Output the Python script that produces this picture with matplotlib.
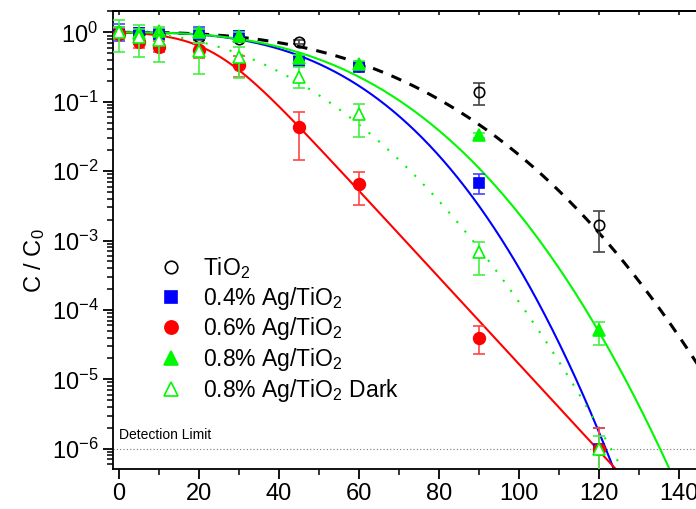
import numpy as np
import matplotlib
matplotlib.use("Agg")
import matplotlib.pyplot as plt
from matplotlib.lines import Line2D
from matplotlib.ticker import FixedLocator, FuncFormatter, NullFormatter

plt.rcParams['font.family'] = ['Liberation Sans', 'DejaVu Sans']
plt.rcParams['mathtext.fontset'] = 'custom'
plt.rcParams['mathtext.rm'] = 'Liberation Sans'
plt.rcParams['mathtext.it'] = 'Liberation Sans:italic'
plt.rcParams['mathtext.bf'] = 'Liberation Sans:bold'

# ---------------- data ----------------
time_min = [0, 5, 10, 20, 30, 45, 60, 90, 120]

tio2 = [1.0, 0.95, 0.95, 0.85, 0.80, 0.725, 0.33, 0.138, 0.0017]
tio2_hi = [1.1, 1.05, 1.03, 0.95, 0.9, 0.78, 0.36, 0.188, 0.0027]
tio2_lo = [0.9, 0.88, 0.88, 0.78, 0.72, 0.67, 0.30, 0.089, 0.00069]

ag04 = [1.0, 0.97, 0.95, 0.95, 0.88, 0.39, 0.32, 0.0068, 1.0e-6]
ag04_hi = [1.3, 1.15, 1.1, 1.2, 1.05, 0.45, 0.37, 0.0090, 2.0e-6]
ag04_lo = [0.75, 0.8, 0.8, 0.8, 0.75, 0.34, 0.28, 0.0047, 1.0e-7]

ag06 = [0.95, 0.72, 0.62, 0.55, 0.34, 0.043, 0.0065, 4.0e-5, 1.0e-6]
ag06_hi = [1.15, 0.85, 0.75, 0.70, 0.45, 0.071, 0.0098, 5.9e-5, 2.0e-6]
ag06_lo = [0.8, 0.6, 0.52, 0.42, 0.23, 0.0145, 0.0033, 2.3e-5, 1.0e-7]

ag08 = [1.05, 0.98, 1.05, 1.0, 0.9, 0.42, 0.35, 0.033, 5.1e-5]
ag08_hi = [1.2, 1.1, 1.15, 1.1, 1.0, 0.47, 0.39, 0.036, 6.8e-5]
ag08_lo = [0.9, 0.85, 0.92, 0.9, 0.8, 0.37, 0.31, 0.030, 3.1e-5]

ag08d = [1.0, 0.85, 0.77, 0.53, 0.44, 0.227, 0.066, 6.8e-4, 1.0e-6]
ag08d_hi = [1.5, 1.27, 1.2, 0.70, 0.62, 0.32, 0.093, 9.6e-4, 1.5e-6]
ag08d_lo = [0.52, 0.44, 0.37, 0.25, 0.22, 0.16, 0.031, 3.2e-4, 1.0e-7]

# model fit parameters
# Weibull: log10(C/C0) = -(t/delta)^p
weib_tio2 = (81.0, 2.7)
weib_ag04 = (65.6, 2.9)
weib_ag08 = (70.5, 2.75)
weib_ag08d = (52.4, 2.1)
# log-linear with shoulder (Geeraerd): slope (decades/min), shoulder (min)
shoulder_ag06 = (0.0625, 23.5)

detection_limit = 1e-6
labels = ['TiO$_2$', '0.4% Ag/TiO$_2$', '0.6% Ag/TiO$_2$', '0.8% Ag/TiO$_2$',
          '0.8% Ag/TiO$_2$ Dark']
x_ticks = [0, 20, 40, 60, 80, 100, 120, 140]
y_ticks = [1e-6, 1e-5, 1e-4, 1e-3, 1e-2, 1e-1, 1e0]

GREEN = '#00F800'
BLUE = '#0000FF'
RED = '#FF0000'

# ---------------- figure ----------------
W, H = 696, 509
fig = plt.figure(figsize=(W / 100, H / 100), dpi=100)
ax_left, ax_right, ax_top, ax_bot = 113, 719, 11, 469
ax = fig.add_axes([ax_left / W, (H - ax_bot) / H, (ax_right - ax_left) / W, (ax_bot - ax_top) / H])
ax.set_yscale('log')
ax.set_xlim(-1.5, 150)
ax.set_ylim(5.1e-7, 2.03)

tf = np.linspace(0, 150, 1500)


def weibull(t, d, p):
    return 10 ** (-(t / d) ** p)


def geeraerd(t, s, sl):
    k = s * np.log(10)
    return np.exp(-k * t) * np.exp(k * sl) / (1 + (np.exp(k * sl) - 1) * np.exp(-k * t))


ax.plot(tf, weibull(tf, *weib_tio2), color='black', lw=2.2, ls=(0, (3.5, 3.0)), zorder=2)
ax.plot(tf, weibull(tf, *weib_ag04), color=BLUE, lw=1.5, zorder=2)
ax.plot(tf, geeraerd(tf, *shoulder_ag06), color=RED, lw=1.5, zorder=2)
ax.plot(tf, weibull(tf, *weib_ag08), color=GREEN, lw=1.5, zorder=2)
ax.plot(tf, weibull(tf, *weib_ag08d), color=GREEN, lw=1.5, ls=(0, (1, 5)), zorder=2)

ax.axhline(detection_limit, color='#777777', lw=0.8, ls=(0, (1, 2)), zorder=1)
ax.text(0, 1.25e-6, 'Detection Limit', fontsize=10, ha='left', va='bottom')

series = [
    (tio2, tio2_hi, tio2_lo, 'o', 'black', 'none', 7.5, 9, '#444444'),
    (ag04, ag04_hi, ag04_lo, 's', BLUE, BLUE, 7, 8, '#4444FF'),
    (ag06, ag06_hi, ag06_lo, 'o', RED, RED, 8.4, 9.5, '#FF4444'),
    (ag08, ag08_hi, ag08_lo, '^', GREEN, GREEN, 8.5, 10.5, '#44F044'),
    (ag08d, ag08d_hi, ag08d_lo, '^', GREEN, 'white', 8.5, 10.5, '#44F044'),
]
handles = []
for i, (v, hi, lo, m, c, fc, ms, lms, ec) in enumerate(series):
    v = np.array(v)
    yerr = [v - np.array(lo), np.array(hi) - v]
    ax.errorbar(time_min, v, yerr=yerr, fmt='none', ecolor=ec, elinewidth=1.2,
                capsize=4.5, capthick=1.2, zorder=3 + i)
    ax.plot(time_min, v, ls='none', marker=m, ms=ms, mec=c, mfc=fc, mew=1.2, zorder=3.5 + i)
    handles.append(Line2D([], [], ls='none', marker=m, ms=lms, mec=c, mfc=fc, mew=1.2))

leg = fig.legend(handles, labels, loc='upper left', bbox_to_anchor=(143 / W, 1 - 239 / H),
                 frameon=False, fontsize=16.5, handlelength=1.0, handletextpad=0.9,
                 labelspacing=0.16, borderpad=0.2)

# axes styling
for sp in ['top', 'bottom', 'left']:
    ax.spines[sp].set_linewidth(1.3)
ax.spines['right'].set_visible(False)

ax.xaxis.set_major_locator(FixedLocator(x_ticks))
ax.xaxis.set_minor_locator(FixedLocator([10, 30, 50, 70, 90, 110, 130]))
ax.yaxis.set_major_locator(FixedLocator(y_ticks))
minor_y = [m * 10.0 ** e for e in range(-7, 1) for m in range(2, 10)]
minor_y = [v for v in minor_y if 5.1e-7 <= v <= 2.03]
ax.yaxis.set_minor_locator(FixedLocator(minor_y))
ax.yaxis.set_minor_formatter(NullFormatter())
ax.yaxis.set_major_formatter(FuncFormatter(lambda v, p: r'$\mathregular{10^{%d}}$' % round(np.log10(v))))
ax.tick_params(axis='both', which='major', direction='out', length=7, width=1.3, labelsize=17)
ax.tick_params(axis='both', which='minor', direction='out', length=4, width=1.1)
ax.tick_params(axis='x', which='major', pad=3)

sec = ax.secondary_xaxis('top')
sec.xaxis.set_major_locator(FixedLocator(list(range(0, 150, 10))))
sec.tick_params(direction='in', length=3, width=1.1, labeltop=False)
sec.spines['top'].set_linewidth(1.3)

fig.text(35 / W, 1 - 261 / H, 'C / C$_0$', rotation=90, fontsize=17, ha='center', va='center')

fig.savefig('out.png', dpi=100)
